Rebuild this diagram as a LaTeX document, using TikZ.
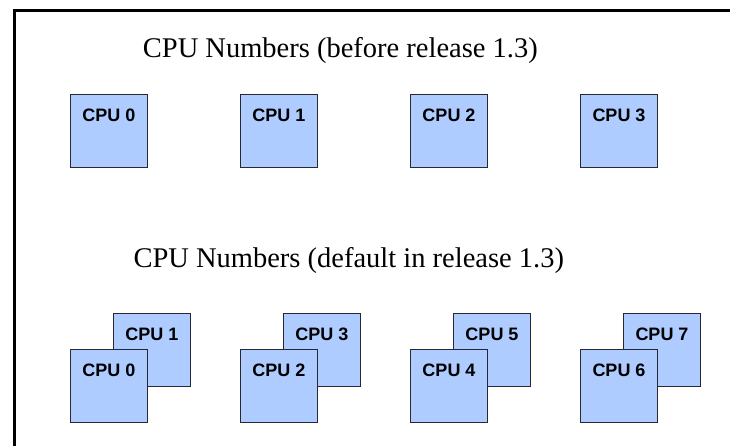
\documentclass[tikz,border=0pt]{standalone}
\usepackage{fontspec}
\setmainfont{Liberation Serif}
\newfontfamily\labfont{Liberation Sans}
\definecolor{cpublue}{RGB}{174,204,255}
\definecolor{cpuedge}{RGB}{40,40,50}
\tikzset{
  cpubox/.style={draw=cpuedge, line width=1pt, fill=cpublue, anchor=north west,
    minimum width=77pt, minimum height=73pt, inner sep=0pt},
  cpulabel/.style={anchor=base, inner sep=0pt, font=\labfont\bfseries\fontsize{18}{20}\selectfont},
  title/.style={anchor=base west, inner sep=0pt, font=\fontsize{28.5}{32}\selectfont},
  frameline/.style={line width=3pt, black}
}
\begin{document}
\begin{tikzpicture}[x=1pt,y=-1pt]
\useasboundingbox (0,0) rectangle (730,445);
\coordinate (fb) at (14.5,446);
\coordinate (fc) at (14.5,10.5);
\coordinate (fr) at (731,10.5);
\draw[frameline] (fb) -- (fc) -- (fr);

\node[title] (t1) at (142.7,57.7) {CPU Numbers (before release 1.3)};
\node[title] (t2) at (133.3,267) {CPU Numbers (default in release 1.3)};

% top row
\foreach \i in {0,1,2,3}{
  \node[cpubox] (a\i) at (70+170*\i,94) {};
  \node[cpulabel] (la\i) at ([yshift=-27.5pt]a\i.north) {CPU \i};
}

% bottom row
\foreach \i/\f/\b in {0/0/1,1/2/3,2/4/5,3/6/7}{
  \node[cpubox] (bb\i) at (113+170*\i,313) {};
  \node[cpulabel] (lbb\i) at ([yshift=-27.5pt]bb\i.north) {CPU \b};
  \node[cpubox] (bf\i) at (70+170*\i,349) {};
  \node[cpulabel] (lbf\i) at ([yshift=-27.5pt]bf\i.north) {CPU \f};
}
\end{tikzpicture}
\end{document}
